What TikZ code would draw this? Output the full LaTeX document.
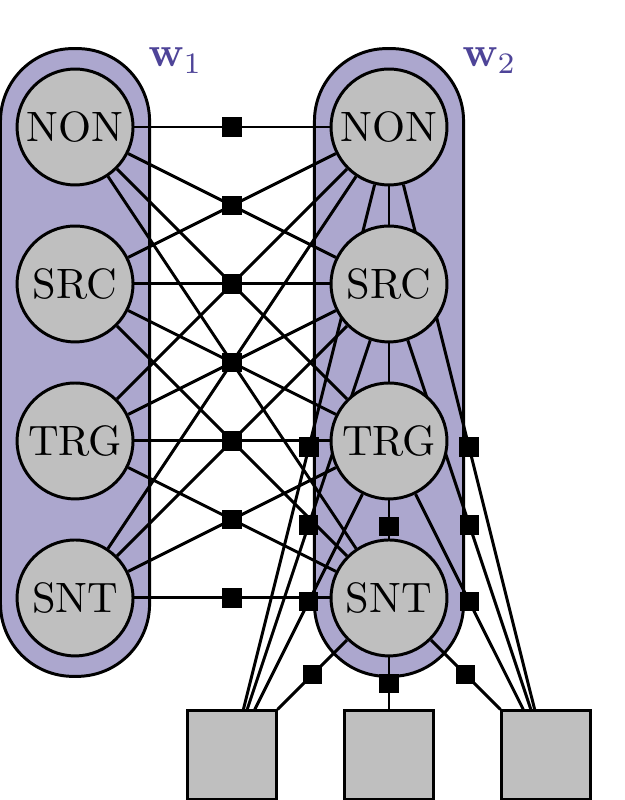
\documentclass[tikz,border=0pt]{standalone}
\usepackage{amsmath}
\usepackage{bm}
\usepackage{xcolor}
\usepackage{tikz}
\usetikzlibrary{positioning, fit, backgrounds}
\definecolor{platefill}{RGB}{172,167,206}
\definecolor{platetext}{RGB}{78,68,152}
\pgfdeclarelayer{edges}
\pgfsetlayers{background,edges,main}

\begin{document}
\begin{tikzpicture}[x=1.3cm, y=1.3cm,
  var/.style={circle, draw, fill=lightgray, line width=0.7pt, minimum size=0.96cm, inner sep=0pt},
  obs/.style={rectangle, draw, fill=lightgray, line width=0.7pt, minimum size=0.73cm},
  factor/.style={rectangle, fill=black, minimum size=0.16cm, inner sep=0pt},
  plate/.style={draw, line width=0.7pt, fill=platefill, rounded corners=0.6cm, inner xsep=0.125cm, inner ysep=0.157cm},
  wlabel/.style={text=platetext, inner sep=0pt, anchor=north west}]
  \useasboundingbox (-0.478,-0.287) rectangle (3.503,4.809);

  % label variables of both words
  \foreach \lab [count=\i] in {NON,SRC,TRG,SNT} {
    \node[var] (a\i) at (0,5-\i) {\lab};
    \node[var] (b\i) at (2,5-\i) {\lab};
  }
  % observed boxes
  \foreach \k in {1,2,3}
    \node[obs] (o\k) at (\k,0) {};

  % plates
  \begin{scope}[on background layer]
    \node[plate, fit=(a1)(a4)] (w1) {};
    \node[plate, fit=(b1)(b4)] (w2) {};
  \end{scope}
  \node[wlabel] at ([xshift=-0.03cm]w1.north east) {$\mathbf{w}_1$};
  \node[wlabel] at ([xshift=-0.03cm]w2.north east) {$\mathbf{w}_2$};

  % factors
  \begin{pgfonlayer}{edges}
    \foreach \i in {1,...,4}
      \foreach \j in {1,...,4}
        \draw[line width=0.7pt] (a\i) -- node[factor] (f\i\j) {} (b\j);
    \foreach \k in {1,2,3}
      \foreach \j in {1,...,4}
        \draw[line width=0.7pt] (o\k) -- node[factor] (g\k\j) {} (b\j);
  \end{pgfonlayer}
\end{tikzpicture}
\end{document}
